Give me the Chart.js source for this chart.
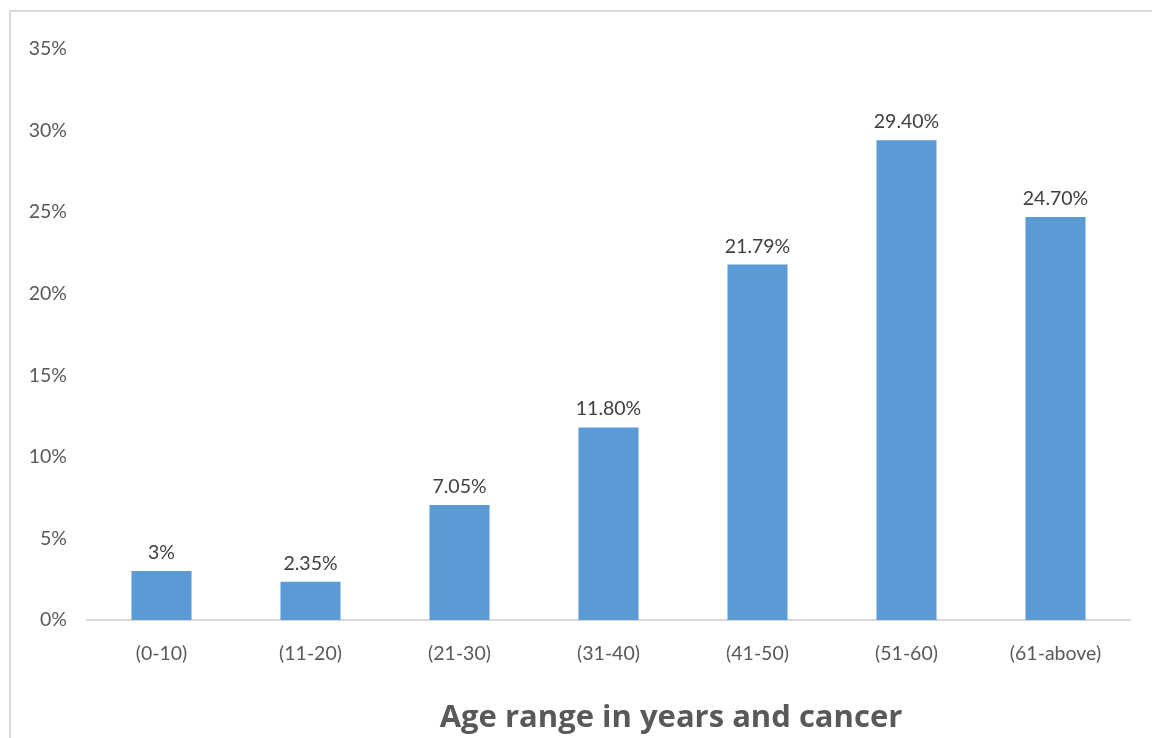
<!DOCTYPE html>
<html>
<head>
<meta charset="utf-8">
<script src="https://cdn.jsdelivr.net/npm/chart.js@4"></script>
<style>
  body { margin: 0; background: #fff; }
  #wrap { width: 1152px; height: 738px; position: relative; }
</style>
</head>
<body>
<div id="wrap"><canvas id="chart" width="1152" height="738"></canvas></div>
<script>
// age groups and share of cancer cases
var ageRanges = ['(0-10)', '(11-20)', '(21-30)', '(31-40)', '(41-50)', '(51-60)', '(61-above)'];
var percents = [3, 2.35, 7.05, 11.8, 21.79, 29.4, 24.7];
var pctLabels = ['3%', '2.35%', '7.05%', '11.80%', '21.79%', '29.40%', '24.70%'];
var yTicks = [0, 5, 10, 15, 20, 25, 30, 35];
var xTitle = 'Age range in years and cancer';

var fontName = 'Lato, "Open Sans", sans-serif';

// frame at left/top, like the cropped chart border
var framePlugin = {
    id: 'frame',
    beforeDraw: function(chart) {
        var c = chart.ctx;
        c.save();
        c.fillStyle = '#fff';
        c.fillRect(0, 0, chart.width, chart.height);
        c.strokeStyle = '#d9d9d9';
        c.lineWidth = 2;
        c.beginPath();
        c.moveTo(10, chart.height);
        c.lineTo(10, 11);
        c.lineTo(chart.width, 11);
        c.stroke();
        c.restore();
    },
    afterDraw: function(chart) {
        // axis title sits right of the plot centre in the original
        var c = chart.ctx;
        c.save();
        c.font = 'bold 31px "Open Sans", sans-serif';
        c.fillStyle = '#595959';
        c.textAlign = 'center';
        c.textBaseline = 'alphabetic';
        c.fillText(xTitle, 671, 727);
        c.restore();
    }
};

// value labels above bars
var valueLabels = {
    id: 'valueLabels',
    afterDatasetsDraw: function(chart) {
        var c = chart.ctx;
        var meta = chart.getDatasetMeta(0);
        c.save();
        c.font = '19.5px ' + fontName;
        c.fillStyle = '#404040';
        c.textAlign = 'center';
        c.textBaseline = 'alphabetic';
        meta.data.forEach(function(bar, i) {
            c.fillText(pctLabels[i], bar.x, bar.y - 12);
        });
        c.restore();
    }
};

var ctx = document.getElementById('chart').getContext('2d');
var myChart = new Chart(ctx, {
    type: 'bar',
    data: {
        labels: ageRanges,
        datasets: [{
            data: percents,
            backgroundColor: '#5B9BD5',
            categoryPercentage: 1,
            barPercentage: 0.403
        }]
    },
    options: {
        responsive: false,
        animation: false,
        layout: { padding: { top: 49, right: 22, left: 0, bottom: 0 } },
        plugins: {
            legend: { display: false },
            tooltip: { enabled: false }
        },
        scales: {
            x: {
                grid: { display: false },
                border: { color: '#d9d9d9', width: 2 },
                ticks: {
                    color: '#595959',
                    font: { family: fontName, size: 19.5 },
                    padding: 14,
                    maxRotation: 0
                },
                afterFit: function(scale) { scale.height = 118; }
            },
            y: {
                min: 0,
                max: 35,
                grid: { display: false },
                border: { display: false },
                afterBuildTicks: function(scale) {
                    scale.ticks = yTicks.map(function(v) { return { value: v }; });
                },
                ticks: {
                    color: '#595959',
                    font: { family: fontName, size: 19.5 },
                    padding: 12,
                    callback: function(v) { return v + '%'; }
                },
                afterFit: function(scale) { scale.width = 87; }
            }
        }
    },
    plugins: [framePlugin, valueLabels]
});
</script>
</body>
</html>
